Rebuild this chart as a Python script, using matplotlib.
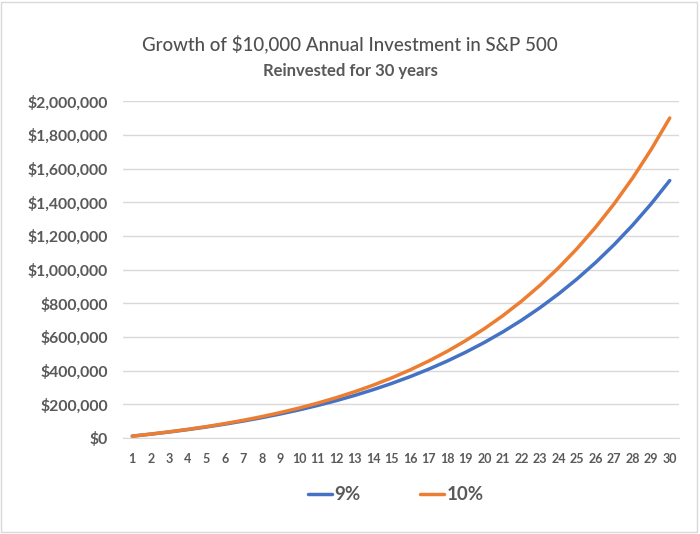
import numpy as np
from matplotlib import pyplot as plt
from matplotlib.ticker import FuncFormatter, MultipleLocator
from matplotlib.patches import Rectangle

plt.rcParams['font.family'] = ['Lato', 'DejaVu Sans']

# values
years = list(range(1, 31))
growth_9 = [10915, 22829, 35833, 50027, 65519, 82429, 100886, 121032, 143021, 167022,
            193220, 221815, 253026, 287093, 324277, 364863, 409163, 457516, 510294, 567901,
            630779, 699410, 774321, 856086, 945333, 1042745, 1149071, 1265126, 1391800, 1530065]
growth_10 = [11025, 23180, 36581, 51356, 67645, 85604, 105403, 127232, 151298, 177831,
             207084, 239335, 274892, 314093, 357313, 404963, 457497, 515416, 579271, 649671,
             727287, 812859, 907202, 1011215, 1125890, 1252319, 1391707, 1545382, 1714809, 1901602]
labels = ['9%', '10%']

text_col = '#595959'
grid_col = '#d9d9d9'

fig = plt.figure(figsize=(7, 5.34), dpi=100)
ax = fig.add_axes([0.1757, 0.1798, 0.9700 - 0.1757, 0.810 - 0.1798])

ax.plot(years, growth_9, color='#4472c4', lw=2.5, label=labels[0], solid_capstyle='round')
ax.plot(years, growth_10, color='#ed7d31', lw=2.5, label=labels[1], solid_capstyle='round')

ax.set_xlim(0.5, 30.5)
ax.set_ylim(0, 2000000)
ax.yaxis.set_major_locator(MultipleLocator(200000))
ax.yaxis.set_major_formatter(FuncFormatter(lambda v, p: '${:,.0f}'.format(v)))
ax.set_xticks(years)
ax.set_xticklabels([str(y) for y in years])
ax.grid(axis='y', color=grid_col, lw=1)
ax.set_axisbelow(True)
for s in ['top', 'right', 'left']:
    ax.spines[s].set_visible(False)
ax.spines['bottom'].set_color(grid_col)
ax.tick_params(axis='both', length=0)
ax.tick_params(axis='y', pad=11, labelsize=11.3, labelcolor=text_col)
ax.tick_params(axis='x', pad=11, labelsize=9, labelcolor=text_col)
for t in ax.get_yticklabels() + ax.get_xticklabels():
    t.set_fontweight('bold')

fig.text(0.5, 1 - 44 / 534, 'Growth of $10,000 Annual Investment in S&P 500',
         ha='center', va='center', fontsize=13.5, color='#505050', fontweight='medium')
fig.text(0.5, 1 - 71 / 534, 'Reinvested for 30 years',
         ha='center', va='center', fontsize=12, color=text_col, fontweight='bold')

leg = fig.legend(loc='center', bbox_to_anchor=(0.565, 1 - 495 / 534), ncol=2,
                 frameon=False, handlelength=1.3, handletextpad=0.1, columnspacing=3.2,
                 prop={'size': 13.5, 'weight': 'bold'})
for t in leg.get_texts():
    t.set_color(text_col)

fig.patches.append(Rectangle((0.002, 0.003), 0.994, 0.994, transform=fig.transFigure,
                             fill=False, edgecolor=grid_col, lw=1))

fig.savefig('out.png', dpi=100)
